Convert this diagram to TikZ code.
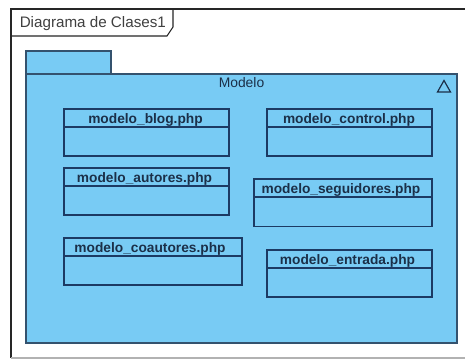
\documentclass[tikz,border=0pt]{standalone}
\usepackage{fontspec}
\setmainfont{Liberation Sans}
\definecolor{pkgfill}{HTML}{78CBF4}
\definecolor{pkgline}{HTML}{34526E}
\definecolor{clsline}{HTML}{1C3A63}
\definecolor{txt}{HTML}{1B2F48}
\tikzset{
  x=0.75pt,y=-0.75pt,
  framebox/.style={draw=black!85,line width=0.8pt},
  pkgpart/.style={draw=pkgline,fill=pkgfill,line width=0.9pt},
  clsbody/.style={draw=clsline,line width=0.8pt,fill=pkgfill,rectangle,inner sep=0pt,outer sep=0pt},
  clshead/.style={font=\bfseries\fontsize{10.3}{12}\selectfont,text=txt,inner sep=0pt},
  plain/.style={font=\fontsize{10.4}{12}\selectfont,text=txt,inner sep=0pt},
}
\newcommand{\classbox}[8]{% name, x1, y1, x2, ydiv, y2, label x, label
  \path[clsbody,draw] (#2,#3) rectangle (#4,#6);
  \coordinate (#1L) at (#2,#5);
  \coordinate (#1R) at (#4,#5);
  \draw[clsbody] (#1L) -- (#1R);
  \node[clshead,anchor=base] (#1) at (#7,{#5-3.5}) {#8};
}
\begin{document}
\begin{tikzpicture}
\useasboundingbox (0,0) rectangle (465,359);
\fill[white] (0,0) rectangle (465,359);
% outer frame
\draw[black!85,line width=0.8pt] (465,9) -- (11,9) -- (11,358);
\draw[black!30,line width=0.8pt] (11,358) -- (465,358);
\draw[framebox] (11,36) -- (167,36) -- (173,27) -- (173,9);
\node[font=\fontsize{11.4}{13}\selectfont,text=black!75,inner sep=0pt,anchor=base west] (title) at (19.5,28) {Diagrama de Clases1};
% package
\draw[pkgpart] (26,74) -- (26,51) -- (111,51) -- (111,74) -- cycle;
\draw[pkgpart] (26,74) rectangle (457,343);
\node[plain,anchor=base] (modelo) at (241.5,88) {Modelo};
\draw[draw=txt,line width=0.9pt,line join=miter] (437.5,92) -- (444,80.5) -- (450.5,92) -- cycle;
% classes
\classbox{blog}{64}{109}{229}{127}{156}{145.5}{modelo\_blog.php}
\classbox{control}{267}{109}{432}{127}{156}{349}{modelo\_control.php}
\classbox{autores}{64}{168}{229}{186}{215}{144.5}{modelo\_autores.php}
\classbox{seguidores}{254}{179}{432}{197}{226.5}{341}{modelo\_seguidores.php}
\classbox{coautores}{64}{238}{242}{256}{285}{150}{modelo\_coautores.php}
\classbox{entrada}{267}{250}{432}{268}{297}{347.5}{modelo\_entrada.php}
\end{tikzpicture}
\end{document}
